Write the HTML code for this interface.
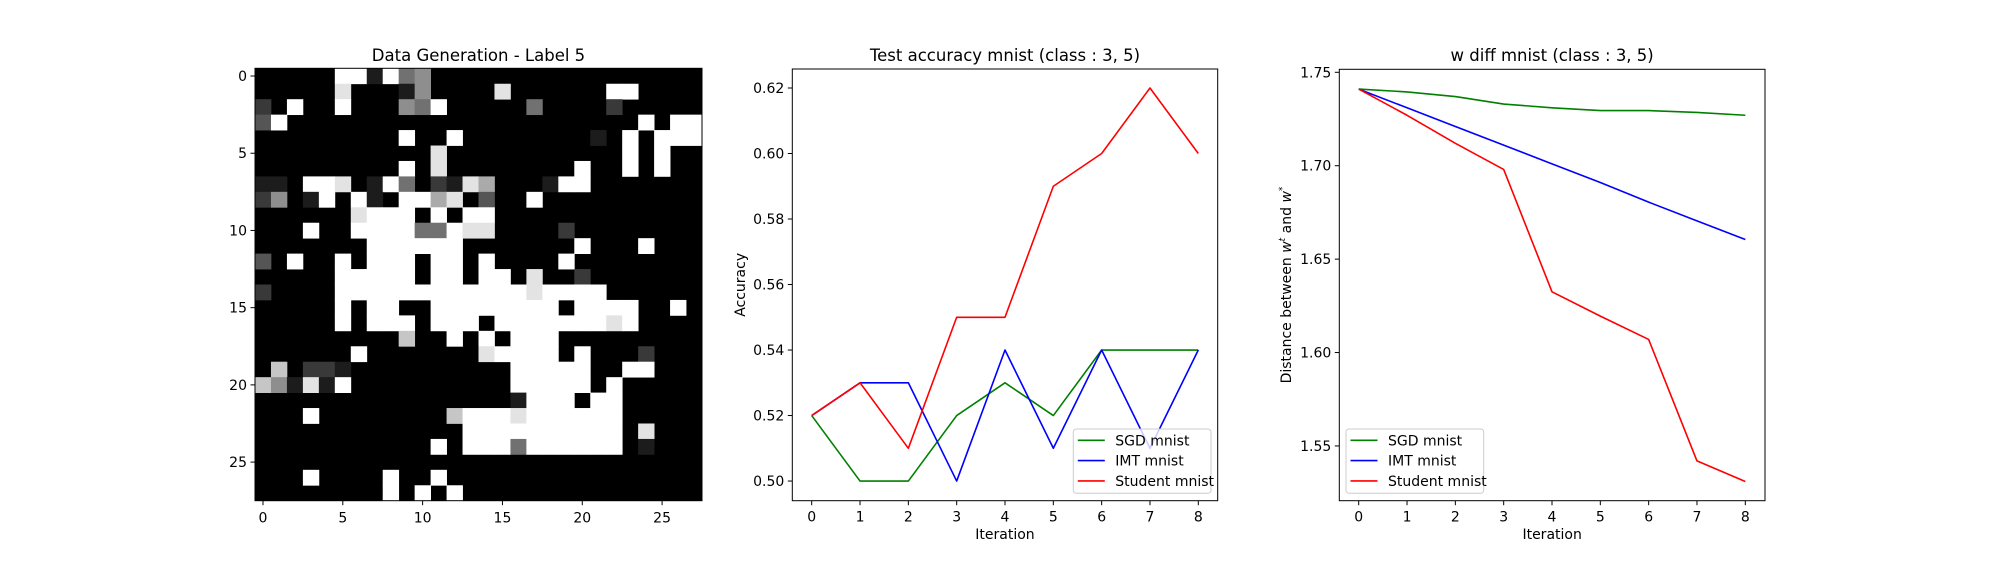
<!DOCTYPE html>
<html><head><meta charset="utf-8"><style>
html,body{margin:0;padding:0;background:#fff}
svg{display:block;font-family:"DejaVu Sans","Liberation Sans",sans-serif}
</style></head><body>
<svg id="fig" width="2000" height="580" viewBox="0 0 2000 580" xmlns="http://www.w3.org/2000/svg">
<rect width="2000" height="580" fill="#fff"/>
<g id="hm"></g>
<g id="acc"></g>
<g id="wd"></g>
</svg>
<script>
const NS="http://www.w3.org/2000/svg";
// ---- heatmap data (sparse rows, "col:val" or "a-b:val", val 0..9) ----
const heatRows=[
"5:9 6:9 7:1 8:9 9:4 10:5",
"5:8 9:1 10:5 15:8 22:9 23:9",
"0:2 2:9 5:9 9:5 10:4 11:9 17:4 22:2",
"0:3 1:9 24:9 26:9 27:9",
"9:9 12:9 21:1 23:9 25:9 26:9 27:9",
"11:8 23:9 25:9",
"9:9 11:8 20:9 23:9 25:9",
"0:1 1:1 3:9 4:9 5:8 7:1 8:9 9:4 11:2 12:1 13:8 14:6 18:1 19:9 20:9",
"0:2 1:5 3:1 4:9 6:9 7:1 9:9 10:9 11:6 12:8 14:3 17:9",
"6:8 7:9 8:9 9:9 11:9 13:9 14:9",
"3:9 6-9:9 10:4 11:4 12:9 13:8 14:8 19:2",
"7-12:9 20:9 24:9",
"0:3 2:9 5:9 7-9:9 11:9 12:9 14:9 19:9",
"5-9:9 11:9 12:9 14:9 15:9 17:8 20:2",
"0:2 5-16:9 17:8 18-21:9",
"5:9 7-8:9 11-18:9 20-23:9 26:9",
"5:9 7-9:9 11-13:9 15-21:9 22:8 23:9",
"9:7 12:9 14:9 16-18:9",
"6:9 14:8 15-18:9 20:9 24:2",
"1:7 3:2 4:2 5:1 16-20:9 23:9 24:9",
"0:7 1:5 2:1 3:8 4:1 5:9 16-20:9 22:9",
"16:1 17-19:9 21-22:9",
"3:9 12:7 13-15:9 16:8 17-22:9",
"13-22:9 24:8",
"11:9 13-15:9 16:4 17-22:9 24:1",
"",
"3:9 8:9 11:9",
"8:9 10:9 12:9"
];
const heatTicks=[0,5,10,15,20,25];
// ---- line chart data ----
const iterations=[0,1,2,3,4,5,6,7,8];
const accSGD=[0.52,0.50,0.50,0.52,0.53,0.52,0.54,0.54,0.54];
const accIMT=[0.52,0.53,0.53,0.50,0.54,0.51,0.54,0.51,0.54];
const accStudent=[0.52,0.53,0.51,0.55,0.55,0.59,0.60,0.62,0.60];
const accTicks=[0.50,0.52,0.54,0.56,0.58,0.60,0.62];
const wSGD=[1.741,1.7395,1.737,1.733,1.731,1.7295,1.7295,1.7285,1.727];
const wIMT=[1.741,1.731,1.721,1.711,1.701,1.691,1.6805,1.6705,1.6605];
const wStudent=[1.741,1.727,1.712,1.698,1.6325,1.6195,1.607,1.542,1.531];
const wTicks=[1.55,1.60,1.65,1.70,1.75];
const seriesNames=["SGD mnist","IMT mnist","Student mnist"];

function el(tag,attrs,parent,text){const e=document.createElementNS(NS,tag);for(const k in attrs)e.setAttribute(k,attrs[k]);if(text!==undefined)e.textContent=text;parent.appendChild(e);return e;}

// ---- heatmap ----
(function(){
  const g=document.getElementById('hm');
  const X0=255,X1=702,Y0=68.3,Y1=500.7,N=28;
  const cw=(X1-X0)/N,ch=(Y1-Y0)/N;
  const xs=c=>X0+c*cw, ys=r=>Y0+r*ch;
  el('rect',{x:X0,y:Y0,width:X1-X0,height:Y1-Y0,fill:'#000'},g);
  heatRows.forEach((row,r)=>{
    if(!row)return;
    row.split(' ').forEach(tok=>{
      const [rng,v]=tok.split(':');const p=rng.split('-').map(Number);
      const a=p[0],b=p.length>1?p[1]:p[0];
      for(let c=a;c<=b;c++){
        const gv=Math.round(+v/9*255);
        const cell=el('rect',{x:xs(c).toFixed(2),y:ys(r).toFixed(2),width:(cw+0.4).toFixed(2),height:(ch+0.4).toFixed(2),fill:`rgb(${gv},${gv},${gv})`},g);
        
        
      }
    });
  });
  const fr=el('rect',{x:X0,y:Y0,width:X1-X0,height:Y1-Y0,fill:'none',stroke:'#000','stroke-width':1},g);
  
  heatTicks.forEach(t=>{
    const x=xs(t+0.5),y=ys(t+0.5);
    el('line',{x1:x,x2:x,y1:Y1,y2:Y1+4.5,stroke:'#000'},g);
    const tx=el('text',{x:x,y:Y1+22,'text-anchor':'middle','font-size':14},g,String(t));
    
    el('line',{x1:X0-4.5,x2:X0,y1:y,y2:y,stroke:'#000'},g);
    const ty=el('text',{x:X0-8,y:y+5,'text-anchor':'end','font-size':14},g,String(t));
    
  });
  const tt=el('text',{x:(X0+X1)/2,y:61,'text-anchor':'middle','font-size':16.5},g,'Data Generation - Label 5');
  
})();

// ---- line chart ----
function lineChart(gid,cfg){
  const g=document.getElementById(gid);
  const {X0,X1,Y0,Y1,xa,xb,ya,yb,vmin,vmax,ticks,fmt,series,title,ylabel,leg}=cfg;
  const xs=v=>xa+(v-0)*(xb-xa)/8;
  const ys=v=>Y1-(v-vmin)/(vmax-vmin)*(Y1-Y0);
  const fr=el('rect',{x:X0,y:Y0,width:X1-X0,height:Y1-Y0,fill:'#fff',stroke:'#000','stroke-width':1},g);
  
  const colors=['#008000','#0000ff','#ff0000'];
  series.forEach((s,i)=>{
    const d=s.map((v,k)=>(k?'L':'M')+xs(iterations[k]).toFixed(2)+','+ys(v).toFixed(2)).join(' ');
    const p=el('path',{d:d,fill:'none',stroke:colors[i],'stroke-width':1.6,'stroke-linejoin':'round'},g);
    
  });
  iterations.forEach(t=>{
    const x=xs(t);
    el('line',{x1:x,x2:x,y1:Y1,y2:Y1+4.5,stroke:'#000'},g);
    const tx=el('text',{x:x,y:Y1+21,'text-anchor':'middle','font-size':14},g,String(t));
    
  });
  ticks.forEach(t=>{
    const y=ys(t);
    el('line',{x1:X0-4.5,x2:X0,y1:y,y2:y,stroke:'#000'},g);
    const ty=el('text',{x:X0-8,y:y+5,'text-anchor':'end','font-size':14},g,t.toFixed(2));
    
  });
  const tt=el('text',{x:(X0+X1)/2,y:61,'text-anchor':'middle','font-size':16.5},g,title);
  
  const xl=el('text',{x:(X0+X1)/2,y:539,'text-anchor':'middle','font-size':14},g,'Iteration');
  
  const yl=el('text',{x:0,y:0,'text-anchor':'middle','font-size':14,transform:`translate(${cfg.ylx},${(Y0+Y1)/2}) rotate(-90)`},g);
  yl.innerHTML=ylabel;
  
  const lg=el('g',{},g);
  
  el('rect',{x:leg.x,y:429,width:leg.w,height:64.3,rx:3,fill:'#fff','fill-opacity':0.8,stroke:'#ccc'},lg);
  seriesNames.forEach((n,i)=>{
    const y=440.3+i*20.3;
    el('line',{x1:leg.x+4.5,x2:leg.x+31.5,y1:y,y2:y,stroke:colors[i],'stroke-width':1.6},lg);
    const t=el('text',{x:leg.x+42,y:y+5,'font-size':14},lg,n);
    
  });
}
lineChart('acc',{X0:792.3,X1:1217.7,Y0:69,Y1:500.7,xa:811.7,xb:1198.3,vmin:0.4940,vmax:0.6258,
  ticks:accTicks,series:[accSGD,accIMT,accStudent],title:'Test accuracy mnist (class : 3, 5)',
  ylabel:'Accuracy',ylx:745,leg:{x:1073.3,w:137.7}});
lineChart('wd',{X0:1339.3,X1:1765,Y0:69.3,Y1:500.7,xa:1358.7,xb:1745.3,vmin:1.5207,vmax:1.7516,
  ticks:wTicks,series:[wSGD,wIMT,wStudent],title:'w diff mnist (class : 3, 5)',
  ylabel:'Distance between <tspan font-style="italic">w</tspan><tspan dy="-6" font-size="9" font-style="italic">t</tspan><tspan dy="6"> and </tspan><tspan font-style="italic">w</tspan><tspan dy="-6" font-size="9">*</tspan>',ylx:1291,leg:{x:1346,w:137.7}});
</script>
</body></html>
